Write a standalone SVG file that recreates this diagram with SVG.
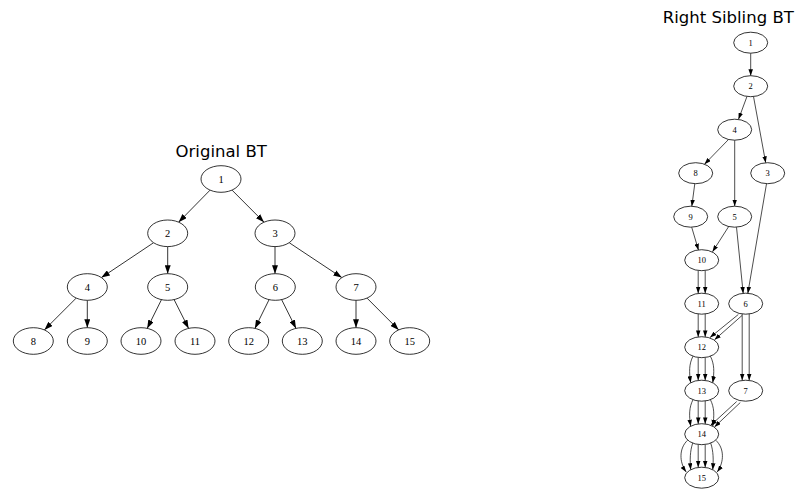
<svg xmlns="http://www.w3.org/2000/svg" width="804" height="502" viewBox="0 0 804 502">
<style>
.title{font-family:"DejaVu Sans",sans-serif;font-size:16.5px;fill:#000;text-anchor:middle}
.n ellipse{fill:#fff;stroke:#000;stroke-width:0.8}
.L text{font-family:"Liberation Serif",serif;font-size:10.5px;text-anchor:middle;fill:#000}
.R text{font-family:"Liberation Serif",serif;font-size:8.5px;text-anchor:middle;fill:#000}
.eL path{fill:none;stroke:#000;stroke-width:0.8;marker-end:url(#aL)}
.eR path{fill:none;stroke:#000;stroke-width:0.7;marker-end:url(#aR)}
</style>
<defs>
<marker id="aL" viewBox="0 0 10 7" markerUnits="userSpaceOnUse" markerWidth="8.5" markerHeight="6" refX="10" refY="3.5" orient="auto"><path d="M0,0 L10,3.5 L0,7 z" fill="#000"/></marker>
<marker id="aR" viewBox="0 0 10 7" markerUnits="userSpaceOnUse" markerWidth="6.5" markerHeight="4.6" refX="10" refY="3.5" orient="auto"><path d="M0,0 L10,3.5 L0,7 z" fill="#000"/></marker>
</defs>
<rect width="804" height="502" fill="#fff"/>
<text class="title" x="221.2" y="156.5">Original BT</text>
<text class="title" x="728.3" y="22.5">Right Sibling BT</text>

<g id="edges-original" class="eL">
<path d="M210.1,190.1 L178.6,222.2"/>
<path d="M232,190.1 L264,222.2"/>
<path d="M153.6,242.7 L101.4,277.6"/>
<path d="M167.7,246.6 L167.7,273.7"/>
<path d="M275,246.6 L275,273.7"/>
<path d="M289.2,242.7 L341.8,277.6"/>
<path d="M76.2,298.1 L44.4,329.9"/>
<path d="M87.3,300.3 L87.3,327.7"/>
<path d="M161.5,299.6 L147.2,328.4"/>
<path d="M174.1,299.6 L188.6,328.4"/>
<path d="M269.1,299.6 L254.9,328.4"/>
<path d="M281.6,299.6 L296,328.4"/>
<path d="M356,300.3 L356,327.7"/>
<path d="M367,298.1 L398.7,329.9"/>
</g>

<g id="nodes-original" class="n L">
<g id="o1"><ellipse cx="221" cy="179" rx="20" ry="13.3"/><text x="221" y="182.7">1</text></g>
<g id="o2"><ellipse cx="167.7" cy="233.3" rx="20" ry="13.3"/><text x="167.7" y="237">2</text></g>
<g id="o3"><ellipse cx="275" cy="233.3" rx="20" ry="13.3"/><text x="275" y="237">3</text></g>
<g id="o4"><ellipse cx="87.3" cy="287" rx="20" ry="13.3"/><text x="87.3" y="290.7">4</text></g>
<g id="o5"><ellipse cx="167.7" cy="287" rx="20" ry="13.3"/><text x="167.7" y="290.7">5</text></g>
<g id="o6"><ellipse cx="275.3" cy="287" rx="20" ry="13.3"/><text x="275.3" y="290.7">6</text></g>
<g id="o7"><ellipse cx="356" cy="287" rx="20" ry="13.3"/><text x="356" y="290.7">7</text></g>
<g id="o8"><ellipse cx="33.3" cy="341" rx="20" ry="13.3"/><text x="33.3" y="344.7">8</text></g>
<g id="o9"><ellipse cx="87.3" cy="341" rx="20" ry="13.3"/><text x="87.3" y="344.7">9</text></g>
<g id="o10"><ellipse cx="141" cy="341" rx="20" ry="13.3"/><text x="141" y="344.7">10</text></g>
<g id="o11"><ellipse cx="195" cy="341" rx="20" ry="13.3"/><text x="195" y="344.7">11</text></g>
<g id="o12"><ellipse cx="248.7" cy="341" rx="20" ry="13.3"/><text x="248.7" y="344.7">12</text></g>
<g id="o13"><ellipse cx="302.3" cy="341" rx="20" ry="13.3"/><text x="302.3" y="344.7">13</text></g>
<g id="o14"><ellipse cx="356" cy="341" rx="20" ry="13.3"/><text x="356" y="344.7">14</text></g>
<g id="o15"><ellipse cx="409.7" cy="341" rx="20" ry="13.3"/><text x="409.7" y="344.7">15</text></g>
</g>

<g id="edges-sibling" class="eR">
<path d="M750.7,53.2 L750.7,75.7"/>
<path d="M747,96.4 L738.5,119.3"/>
<path d="M753.5,96.5 L765.7,162.8"/>
<path d="M728.5,139.5 L704.5,164.2"/>
<path d="M734.7,140.2 L734.7,206.2"/>
<path d="M694.8,183.6 L691.8,206.3"/>
<path d="M766.5,183.8 L747.8,293.4"/>
<path d="M736.5,227.2 L743.2,293.4"/>
<path d="M691.7,227.2 L698.5,250.2"/>
<path d="M729,226 L712.5,251.8"/>
<path d="M698.2,270.5 L698.2,293.4"/>
<path d="M705.2,270.5 L705.2,293.4"/>
<path d="M698.2,314 L698.2,336.9"/>
<path d="M705.2,314 L705.2,336.9"/>
<path d="M738.3,314.5 L710,337.5"/>
<path d="M742,315.5 L714.5,339.8"/>
<path d="M742.2,314 L742.2,380.4"/>
<path d="M749.2,314 L749.2,380.4"/>
<path d="M693,356.2 C689,364 689,372 690.7,382.7"/>
<path d="M698.2,357.5 L698.2,380.4"/>
<path d="M705.2,357.5 L705.2,380.4"/>
<path d="M710.4,356.2 C714.4,364 714.4,372 712.7,382.7"/>
<path d="M693,399.7 C689,407.5 689,415.5 690.7,426.2"/>
<path d="M698.2,401 L698.2,423.9"/>
<path d="M705.2,401 L705.2,423.9"/>
<path d="M710.4,399.7 C714.4,407.5 714.4,415.5 712.7,426.2"/>
<path d="M736.7,401.5 L710.5,425.5"/>
<path d="M740.3,402.5 L714.5,427"/>
<path d="M687.7,440.2 C679,448 679,462 686.2,472"/>
<path d="M692.7,443.1 C690,451 689.8,460 690.7,469.7"/>
<path d="M698.2,444.5 L698.2,467.4"/>
<path d="M705.2,444.5 L705.2,467.4"/>
<path d="M710.7,443.1 C713.4,451 713.6,460 712.7,469.7"/>
<path d="M715.7,440.2 C724.4,448 724.4,462 717.2,472"/>
</g>

<g id="nodes-sibling" class="n R">
<g id="r1"><ellipse cx="750.7" cy="42.7" rx="17" ry="10.5"/><text x="750.7" y="45.7">1</text></g>
<g id="r2"><ellipse cx="750.7" cy="86.2" rx="17" ry="10.5"/><text x="750.7" y="89.2">2</text></g>
<g id="r4"><ellipse cx="734.7" cy="129.7" rx="17" ry="10.5"/><text x="734.7" y="132.7">4</text></g>
<g id="r8"><ellipse cx="695.7" cy="173.2" rx="17" ry="10.5"/><text x="695.7" y="176.2">8</text></g>
<g id="r3"><ellipse cx="767.7" cy="173.2" rx="17" ry="10.5"/><text x="767.7" y="176.2">3</text></g>
<g id="r9"><ellipse cx="690.7" cy="216.7" rx="17" ry="10.5"/><text x="690.7" y="219.7">9</text></g>
<g id="r5"><ellipse cx="734.7" cy="216.7" rx="17" ry="10.5"/><text x="734.7" y="219.7">5</text></g>
<g id="r10"><ellipse cx="701.7" cy="260.2" rx="17" ry="10.5"/><text x="701.7" y="263.2">10</text></g>
<g id="r11"><ellipse cx="701.7" cy="303.7" rx="17" ry="10.5"/><text x="701.7" y="306.7">11</text></g>
<g id="r6"><ellipse cx="745.7" cy="303.7" rx="17" ry="10.5"/><text x="745.7" y="306.7">6</text></g>
<g id="r12"><ellipse cx="701.7" cy="347.2" rx="17" ry="10.5"/><text x="701.7" y="350.2">12</text></g>
<g id="r13"><ellipse cx="701.7" cy="390.7" rx="17" ry="10.5"/><text x="701.7" y="393.7">13</text></g>
<g id="r7"><ellipse cx="745.7" cy="390.7" rx="17" ry="10.5"/><text x="745.7" y="393.7">7</text></g>
<g id="r14"><ellipse cx="701.7" cy="434.2" rx="17" ry="10.5"/><text x="701.7" y="437.2">14</text></g>
<g id="r15"><ellipse cx="701.7" cy="477.7" rx="17" ry="10.5"/><text x="701.7" y="480.7">15</text></g>
</g>
</svg>
